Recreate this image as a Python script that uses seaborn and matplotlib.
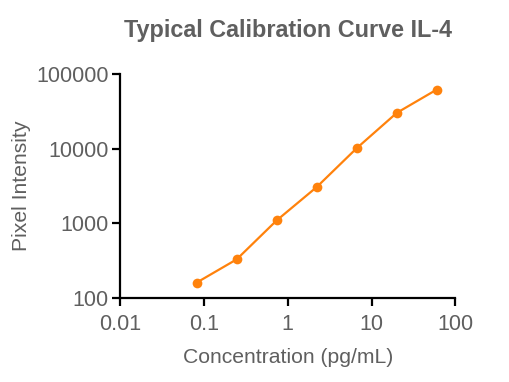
import pandas as pd
import matplotlib
matplotlib.use('Agg')
import matplotlib.pyplot as plt
import seaborn as sns
from matplotlib.ticker import FixedLocator, FixedFormatter, NullLocator

concentration = [0.082, 0.247, 0.741, 2.22, 6.67, 20.0, 60.0]
intensity = [159, 327, 1090, 3050, 10160, 30200, 62100]
x_ticks = [0.01, 0.1, 1, 10, 100]
x_labels = ['0.01', '0.1', '1', '10', '100']
y_ticks = [100, 1000, 10000, 100000]
y_labels = ['100', '1000', '10000', '100000']

df = pd.DataFrame({'Concentration': concentration, 'Intensity': intensity})

sns.set_style('ticks')
plt.rcParams['font.family'] = ['Liberation Sans', 'DejaVu Sans']

text_gray = '#5f5f5f'
orange = '#ff820c'

fig = plt.figure(figsize=(5.1, 3.82), dpi=100)
ax = fig.add_axes([0.235, 0.2207, 0.658, 0.5853])

sns.lineplot(data=df, x='Concentration', y='Intensity', marker='o', color=orange,
             linewidth=1.6, markersize=7, markeredgewidth=0, ax=ax)

ax.set_xscale('log')
ax.set_yscale('log')
ax.set_xlim(0.01, 100)
ax.set_ylim(100, 100000)
ax.xaxis.set_major_locator(FixedLocator(x_ticks))
ax.xaxis.set_major_formatter(FixedFormatter(x_labels))
ax.xaxis.set_minor_locator(NullLocator())
ax.yaxis.set_major_locator(FixedLocator(y_ticks))
ax.yaxis.set_major_formatter(FixedFormatter(y_labels))
ax.yaxis.set_minor_locator(NullLocator())

for side in ['top', 'right']:
    ax.spines[side].set_visible(False)
for side in ['left', 'bottom']:
    ax.spines[side].set_linewidth(1.6)
    ax.spines[side].set_color('black')
ax.tick_params(axis='both', length=6, width=1.6, color='black',
               labelsize=15.5, labelcolor=text_gray)
ax.tick_params(axis='x', pad=6)
ax.tick_params(axis='y', pad=2)

ax.set_xlabel('Concentration (pg/mL)', fontsize=15.2, color=text_gray, labelpad=9)
ax.set_ylabel('Pixel Intensity', fontsize=15.2, color=text_gray, labelpad=4)
ax.set_title('Typical Calibration Curve IL-4', fontsize=16.8, fontweight='bold',
             color=text_gray, pad=27)

fig.savefig('out.png', dpi=100)
